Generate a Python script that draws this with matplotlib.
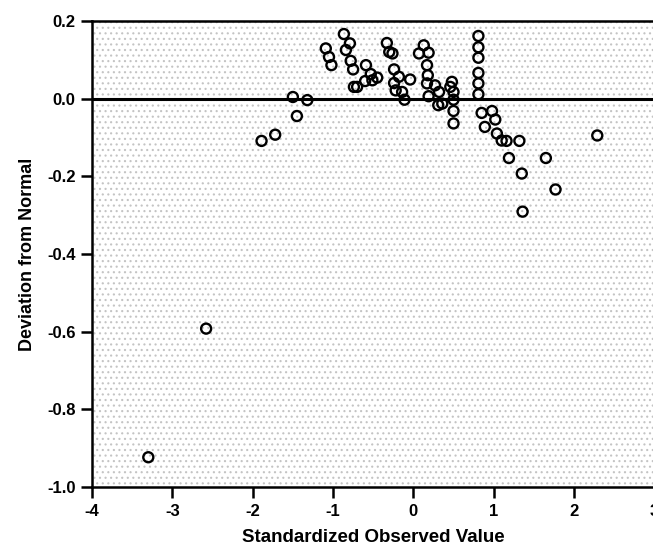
import matplotlib
matplotlib.use("Agg")
import matplotlib.pyplot as plt
from matplotlib.patches import Rectangle

# detrended normal Q-Q points
std_obs = [-3.30, -2.58, -1.89, -1.72, -1.50, -1.45, -1.32, -1.09, -1.05, -1.02,
           -0.865, -0.84, -0.79, -0.78, -0.75, -0.74, -0.70, -0.60, -0.59, -0.53,
           -0.51, -0.45, -0.33, -0.30, -0.26, -0.24, -0.24, -0.22, -0.18, -0.14,
           -0.11, -0.04, 0.07, 0.13, 0.17, 0.17, 0.18, 0.19, 0.19, 0.27,
           0.31, 0.32, 0.36, 0.46, 0.48, 0.50, 0.50, 0.50, 0.50, 0.81,
           0.81, 0.81, 0.81, 0.81, 0.81, 0.85, 0.89, 0.98, 1.02, 1.04,
           1.10, 1.16, 1.19, 1.32, 1.35, 1.36, 1.65, 1.77, 2.29]
deviation = [-0.923, -0.592, -0.109, -0.093, 0.004, -0.045, -0.004, 0.129, 0.107, 0.086,
             0.166, 0.125, 0.142, 0.097, 0.075, 0.030, 0.030, 0.045, 0.086, 0.063,
             0.047, 0.054, 0.143, 0.120, 0.116, 0.075, 0.040, 0.021, 0.056, 0.017,
             -0.003, 0.049, 0.116, 0.137, 0.086, 0.039, 0.060, 0.118, 0.006, 0.034,
             -0.017, 0.017, -0.013, 0.030, 0.043, 0.017, -0.003, -0.032, -0.064, 0.161,
             0.132, 0.105, 0.066, 0.039, 0.011, -0.037, -0.073, -0.032, -0.054, -0.090,
             -0.108, -0.109, -0.153, -0.109, -0.193, -0.291, -0.153, -0.234, -0.095]

x_ticks = [-4, -3, -2, -1, 0, 1, 2, 3]
y_ticks = [0.2, 0.0, -0.2, -0.4, -0.6, -0.8, -1.0]

plt.rcParams['font.family'] = ['Liberation Sans', 'DejaVu Sans']
plt.rcParams['axes.unicode_minus'] = False
plt.rcParams['hatch.linewidth'] = 0.8

fig = plt.figure(figsize=(6.53, 5.48), dpi=100)
ax = fig.add_axes([0.141, 0.111, 0.861, 0.851])

# stippled scan background
ax.add_patch(Rectangle((0, 0), 1, 1, transform=ax.transAxes, facecolor="white",
                       edgecolor="#c4c4c4", hatch="...", lw=0, zorder=0))

ax.axhline(0, color="black", lw=2.2, zorder=2)
ax.scatter(std_obs, deviation, s=52, facecolors="none", edgecolors="black",
           linewidths=1.7, zorder=3)

ax.set_xlim(-4, 3)
ax.set_ylim(-1.0, 0.2)
ax.set_xticks(x_ticks)
ax.set_yticks(y_ticks)
ax.set_yticklabels([f"{v:.1f}" for v in y_ticks])
ax.tick_params(direction="out", length=8, width=1.8, labelsize=12, pad=4)
for lab in ax.get_xticklabels() + ax.get_yticklabels():
    lab.set_fontweight("bold")

for side in ("left", "bottom", "top"):
    ax.spines[side].set_linewidth(1.8)
ax.spines["right"].set_visible(False)

ax.set_xlabel("Standardized Observed Value", fontsize=13.5, fontweight="bold", labelpad=7)
ax.set_ylabel("Deviation from Normal", fontsize=13, fontweight="bold", labelpad=8)

fig.savefig("out.png", dpi=100)
